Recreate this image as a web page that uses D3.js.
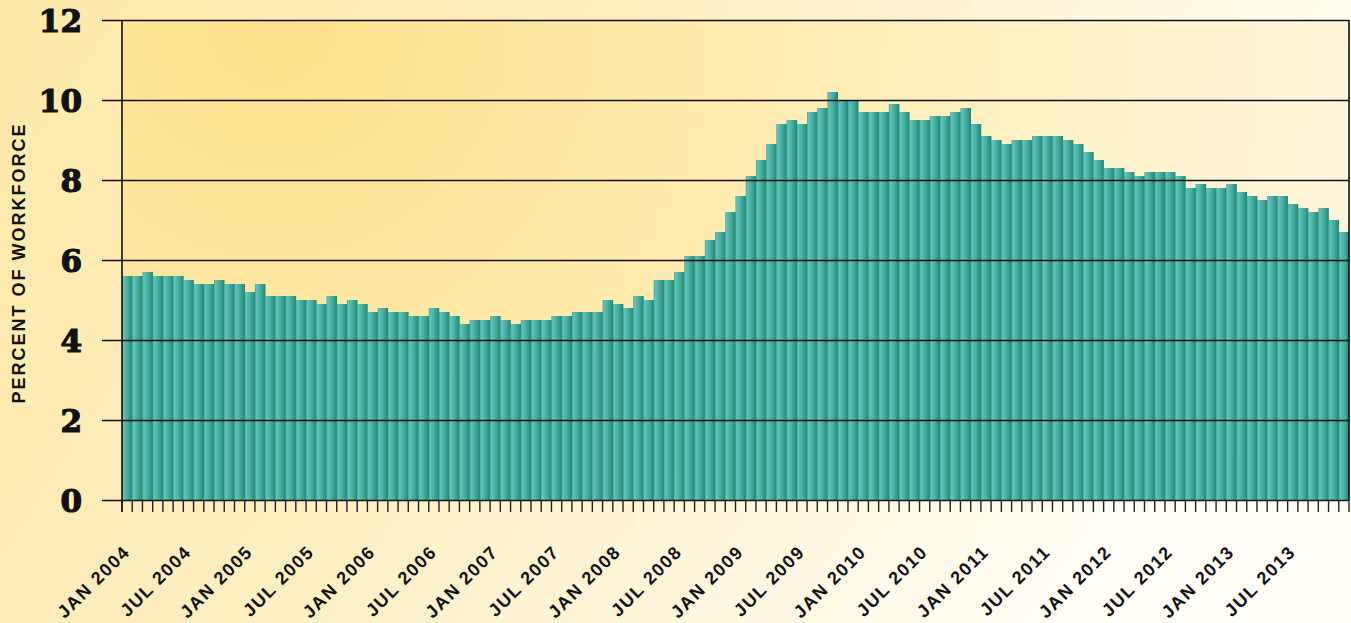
<!DOCTYPE html>
<html>
<head>
<meta charset="utf-8">
<script src="https://cdn.jsdelivr.net/npm/d3@7"></script>
<style>
  html, body { margin: 0; padding: 0; }
  body { width: 1351px; height: 623px; overflow: hidden; }
  svg { display: block; }
</style>
</head>
<body>
<svg id="chart" width="1351" height="623"></svg>
<script>
// ---- data ----
const years = [2004, 2005, 2006, 2007, 2008, 2009, 2010, 2011, 2012, 2013];
const monthNames = ["JAN","FEB","MAR","APR","MAY","JUN","JUL","AUG","SEP","OCT","NOV","DEC"];
const rate2004 = [5.6, 5.6, 5.7, 5.6, 5.6, 5.6, 5.5, 5.4, 5.4, 5.5, 5.4, 5.4];
const rate2005 = [5.2, 5.4, 5.1, 5.1, 5.1, 5.0, 5.0, 4.9, 5.1, 4.9, 5.0, 4.9];
const rate2006 = [4.7, 4.8, 4.7, 4.7, 4.6, 4.6, 4.8, 4.7, 4.6, 4.4, 4.5, 4.5];
const rate2007 = [4.6, 4.5, 4.4, 4.5, 4.5, 4.5, 4.6, 4.6, 4.7, 4.7, 4.7, 5.0];
const rate2008 = [4.9, 4.8, 5.1, 5.0, 5.5, 5.5, 5.7, 6.1, 6.1, 6.5, 6.7, 7.2];
const rate2009 = [7.6, 8.1, 8.5, 8.9, 9.4, 9.5, 9.4, 9.7, 9.8, 10.2, 10.0, 10.0];
const rate2010 = [9.7, 9.7, 9.7, 9.9, 9.7, 9.5, 9.5, 9.6, 9.6, 9.7, 9.8, 9.4];
const rate2011 = [9.1, 9.0, 8.9, 9.0, 9.0, 9.1, 9.1, 9.1, 9.0, 8.9, 8.7, 8.5];
const rate2012 = [8.3, 8.3, 8.2, 8.1, 8.2, 8.2, 8.2, 8.1, 7.8, 7.9, 7.8, 7.8];
const rate2013 = [7.9, 7.7, 7.6, 7.5, 7.6, 7.6, 7.4, 7.3, 7.2, 7.3, 7.0, 6.7];
const yTicks = [0, 2, 4, 6, 8, 10, 12];
const yTitle = "PERCENT OF WORKFORCE";

const allRates = [rate2004, rate2005, rate2006, rate2007, rate2008, rate2009, rate2010, rate2011, rate2012, rate2013];
const data = [];
years.forEach((y, yi) => {
  allRates[yi].forEach((v, mi) => {
    data.push({ key: monthNames[mi] + " " + y, month: mi, year: y, value: v });
  });
});

// ---- layout ----
const W = 1351, H = 623;
const plot = { left: 122, right: 1349, top: 20, bottom: 500 };

const svg = d3.select("#chart");
const defs = svg.append("defs");

// page background
const bg = defs.append("linearGradient").attr("id", "bgGrad")
  .attr("x1", "0%").attr("y1", "0%").attr("x2", "100%").attr("y2", "30%");
bg.append("stop").attr("offset", "0%").attr("stop-color", "#fde9a8");
bg.append("stop").attr("offset", "45%").attr("stop-color", "#feefc2");
bg.append("stop").attr("offset", "100%").attr("stop-color", "#fffdf6");

// plot background
const pg = defs.append("radialGradient").attr("id", "plotGrad")
  .attr("gradientUnits", "userSpaceOnUse")
  .attr("cx", plot.left + 150).attr("cy", plot.top).attr("r", 1300)
  .attr("fx", plot.left + 150).attr("fy", plot.top);
pg.append("stop").attr("offset", "0%").attr("stop-color", "#fde08a");
pg.append("stop").attr("offset", "40%").attr("stop-color", "#feedb4");
pg.append("stop").attr("offset", "100%").attr("stop-color", "#fffaea");

// bar gradient
const barG = defs.append("linearGradient").attr("id", "barGrad")
  .attr("x1", "0%").attr("y1", "0%").attr("x2", "100%").attr("y2", "0%");
barG.append("stop").attr("offset", "0%").attr("stop-color", "#3a9f90");
barG.append("stop").attr("offset", "12%").attr("stop-color", "#62c3bb");
barG.append("stop").attr("offset", "55%").attr("stop-color", "#45aa9e");
barG.append("stop").attr("offset", "100%").attr("stop-color", "#1f8873");

svg.append("rect").attr("x", 0).attr("y", 0).attr("width", W).attr("height", H)
  .attr("fill", "url(#bgGrad)");
svg.append("rect").attr("x", plot.left).attr("y", plot.top)
  .attr("width", plot.right - plot.left).attr("height", plot.bottom - plot.top)
  .attr("fill", "url(#plotGrad)");

// ---- scales ----
const x = d3.scaleBand().domain(data.map(d => d.key))
  .range([plot.left, plot.right]).padding(0);
const y = d3.scaleLinear().domain([0, 12]).range([plot.bottom, plot.top]);

// ---- bars ----
svg.append("g").selectAll("rect").data(data).join("rect")
  .attr("x", d => x(d.key))
  .attr("y", d => y(d.value))
  .attr("width", x.bandwidth() + 0.3)
  .attr("height", d => y(0) - y(d.value))
  .attr("fill", "url(#barGrad)");

// ---- gridlines + y labels ----
const yAxis = d3.axisLeft(y).tickValues(yTicks)
  .tickSize(-(plot.right - 102)).tickPadding(0).tickFormat(d3.format("d"));
const gy = svg.append("g").attr("transform", `translate(${plot.right},0)`).call(yAxis);
gy.select(".domain").remove();
gy.selectAll(".tick line")
  .attr("x1", 0).attr("x2", -(plot.right - 102))
  .attr("stroke", "#111").attr("stroke-width", 1.6);
gy.selectAll(".tick text")
  .attr("x", -(plot.right - 82))
  .attr("dy", "0.36em")
  .attr("text-anchor", "end")
  .attr("font-family", "'DejaVu Serif', serif")
  .attr("font-weight", "bold")
  .attr("font-size", 31)
  .attr("fill", "#111")
  .attr("stroke", "#111")
  .attr("stroke-width", 1.2);

// plot frame left and right
svg.append("line").attr("x1", plot.left).attr("x2", plot.left)
  .attr("y1", plot.top).attr("y2", plot.bottom + 12)
  .attr("stroke", "#111").attr("stroke-width", 1.6);
svg.append("line").attr("x1", plot.right).attr("x2", plot.right)
  .attr("y1", plot.top).attr("y2", plot.bottom)
  .attr("stroke", "#111").attr("stroke-width", 1.6);

// ---- x axis ticks ----
const boundaries = data.map(d => x(d.key)).concat([plot.right]);
svg.append("g").selectAll("line").data(boundaries).join("line")
  .attr("x1", d => d).attr("x2", d => d)
  .attr("y1", plot.bottom).attr("y2", plot.bottom + 12)
  .attr("stroke", "#222").attr("stroke-width", 1.4);

// ---- x labels ----
const labelled = data.filter(d => d.month === 0 || d.month === 6);
svg.append("g").selectAll("text").data(labelled).join("text")
  .attr("transform", d => `translate(${x(d.key) + x.bandwidth() / 2 + 4},${553}) rotate(-45)`)
  .attr("text-anchor", "end")
  .attr("font-family", "'Liberation Sans', Arial, sans-serif")
  .attr("font-weight", "bold")
  .attr("font-size", 18)
  .attr("letter-spacing", "1.6px")
  .attr("fill", "#111")
  .text(d => d.key);

// ---- y title ----
svg.append("text")
  .attr("transform", `translate(25,263) rotate(-90)`)
  .attr("text-anchor", "middle")
  .attr("font-family", "'Liberation Sans', Arial, sans-serif")
  .attr("font-weight", "bold")
  .attr("font-size", 18)
  .attr("letter-spacing", "2px")
  .attr("fill", "#111")
  .text(yTitle);
</script>
</body>
</html>
